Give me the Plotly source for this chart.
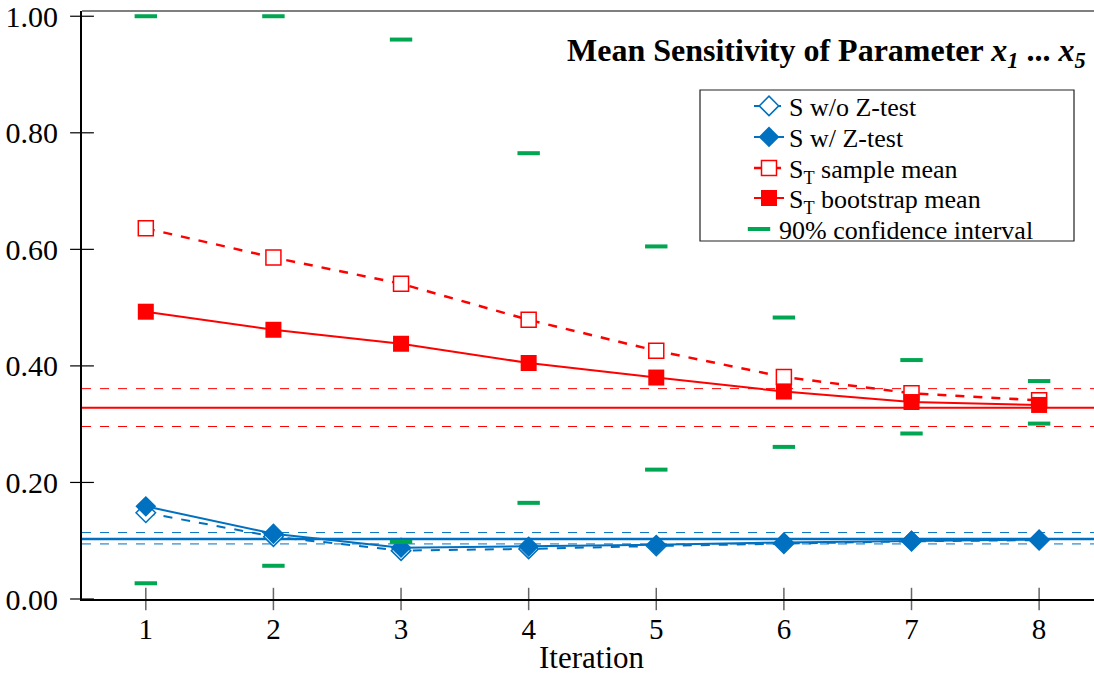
import plotly.graph_objects as go

iterations = [1, 2, 3, 4, 5, 6, 7, 8]
s_wo_ztest = [0.148, 0.107, 0.083, 0.086, 0.091, 0.095, 0.099, 0.101]
s_w_ztest = [0.159, 0.112, 0.088, 0.090, 0.093, 0.097, 0.100, 0.102]
st_sample_mean = [0.636, 0.586, 0.541, 0.479, 0.426, 0.381, 0.353, 0.341]
st_bootstrap_mean = [0.493, 0.462, 0.438, 0.405, 0.380, 0.356, 0.338, 0.333]
ci_upper = [1.000, 1.000, 0.960, 0.765, 0.605, 0.483, 0.410, 0.374]
ci_lower = [0.027, 0.057, 0.098, 0.165, 0.222, 0.261, 0.284, 0.301]

st_ref = 0.328
st_ref_band = [0.361, 0.296]
s_ref = 0.103
s_ref_band = [0.114, 0.0945]

y_ticks = [0.0, 0.2, 0.4, 0.6, 0.8, 1.0]
x_range = [0.5, 8.43]
y_range = [0, 1.009]

BLUE = "#0070C0"
RED = "#FF0000"
GREEN = "#00A651"
FONT = "Liberation Serif"

# plot-area geometry in pixels (for paper-coordinate placement of decorations)
PL, PR, PT, PB = 82, 1094, 11, 599
def px(xp):
    return (xp - PL) / (PR - PL)
def py(yp):
    return (PB - yp) / (PB - PT)

fig = go.Figure()

def hline(y, color, width, dash):
    fig.add_trace(go.Scatter(x=x_range, y=[y, y], mode="lines",
                             line=dict(color=color, width=width, dash=dash),
                             showlegend=False, hoverinfo="skip"))

hline(st_ref, RED, 2, "solid")
for v in st_ref_band:
    hline(v, RED, 1, "dash")
hline(s_ref, BLUE, 2.5, "solid")
for v in s_ref_band:
    hline(v, BLUE, 1, "dash")

fig.add_trace(go.Scatter(
    x=iterations, y=s_wo_ztest, name="S w/o Z-test", mode="lines+markers",
    line=dict(color=BLUE, width=2, dash="dash"),
    marker=dict(symbol="diamond", size=15, color="white", line=dict(color=BLUE, width=1.5)),
    legend="legend",
))
fig.add_trace(go.Scatter(
    x=iterations, y=s_w_ztest, name="S w/ Z-test", mode="lines+markers",
    line=dict(color=BLUE, width=2),
    marker=dict(symbol="diamond", size=16, color=BLUE),
    legend="legend2",
))
fig.add_trace(go.Scatter(
    x=iterations, y=st_sample_mean, name="S<sub>T</sub> sample mean", mode="lines+markers",
    line=dict(color=RED, width=2.5, dash="dash"),
    marker=dict(symbol="square", size=15, color="white", line=dict(color=RED, width=1.5)),
    legend="legend3",
))
fig.add_trace(go.Scatter(
    x=iterations, y=st_bootstrap_mean, name="S<sub>T</sub> bootstrap mean", mode="lines+markers",
    line=dict(color=RED, width=2),
    marker=dict(symbol="square", size=16, color=RED),
    legend="legend4",
))
fig.add_trace(go.Scatter(
    x=iterations + iterations, y=ci_upper + ci_lower, name="90% confidence interval", mode="markers",
    marker=dict(symbol="line-ew-open", size=16, color=GREEN, line=dict(color=GREEN, width=4)),
    cliponaxis=False, legend="legend5",
))

# crossing tick marks
fig.add_trace(go.Scatter(
    x=iterations, y=[y_range[0]] * len(iterations), mode="markers",
    marker=dict(symbol="line-ns-open", size=16, color="#666666", line=dict(color="#666666", width=1.5)),
    showlegend=False, hoverinfo="skip", cliponaxis=False,
))
fig.add_trace(go.Scatter(
    x=[x_range[0]] * len(y_ticks), y=y_ticks, mode="markers",
    marker=dict(symbol="line-ew-open", size=17, color="black", line=dict(color="black", width=1.2)),
    showlegend=False, hoverinfo="skip", cliponaxis=False,
))

shapes = [
    dict(type="rect", xref="paper", yref="paper", x0=px(700), x1=px(1074), y0=py(241), y1=py(90),
         line=dict(color="#222222", width=1.2), fillcolor="white", layer="above"),
    dict(type="line", xref="paper", x0=0, x1=1, yref="paper", y0=1, y1=1,
         line=dict(color="#555555", width=1.5)),
]

def legend_at(x_pix, y_pix):
    return dict(x=px(x_pix), y=py(y_pix), xanchor="left", yanchor="middle",
                bgcolor="rgba(0,0,0,0)", borderwidth=0,
                font=dict(family=FONT, size=26, color="black"), itemwidth=30)

fig.update_layout(
    width=1094, height=675,
    margin=dict(l=PL, r=1094 - PR, t=PT, b=675 - PB),
    paper_bgcolor="white", plot_bgcolor="white",
    font=dict(family=FONT, size=26, color="black"),
    shapes=shapes,
    showlegend=True,
    legend=legend_at(749, 106),
    legend2=legend_at(749, 137),
    legend3=legend_at(749, 168),
    legend4=legend_at(749, 198),
    legend5=legend_at(739, 229),
    annotations=[
        dict(
            text="<b>Mean Sensitivity of Parameter <i>x<sub>1</sub></i> ... <i>x<sub>5</sub></i></b>",
            xref="paper", yref="paper", x=px(1088), y=py(53),
            xanchor="right", yanchor="middle",
            showarrow=False, font=dict(family=FONT, size=32, color="black"),
        ),
        dict(
            text="Iteration", xref="paper", yref="paper", x=px(592), y=py(657),
            xanchor="center", yanchor="middle", showarrow=False,
            font=dict(family=FONT, size=31, color="black"),
        ),
    ],
    xaxis=dict(
        range=x_range, tickmode="array", tickvals=iterations,
        ticks="", showline=True, linecolor="black", linewidth=2,
        showgrid=False, zeroline=False, ticklabelstandoff=3,
        tickfont=dict(family=FONT, size=29), ticklabeloverflow="allow",
    ),
    yaxis=dict(
        range=y_range, tickmode="array", tickvals=y_ticks, tickformat=".2f",
        ticks="", showline=True, linecolor="black", linewidth=2,
        showgrid=False, zeroline=False, ticklabelstandoff=16,
        tickfont=dict(family=FONT, size=30), ticklabeloverflow="allow",
    ),
)

fig.write_html("out.html")
